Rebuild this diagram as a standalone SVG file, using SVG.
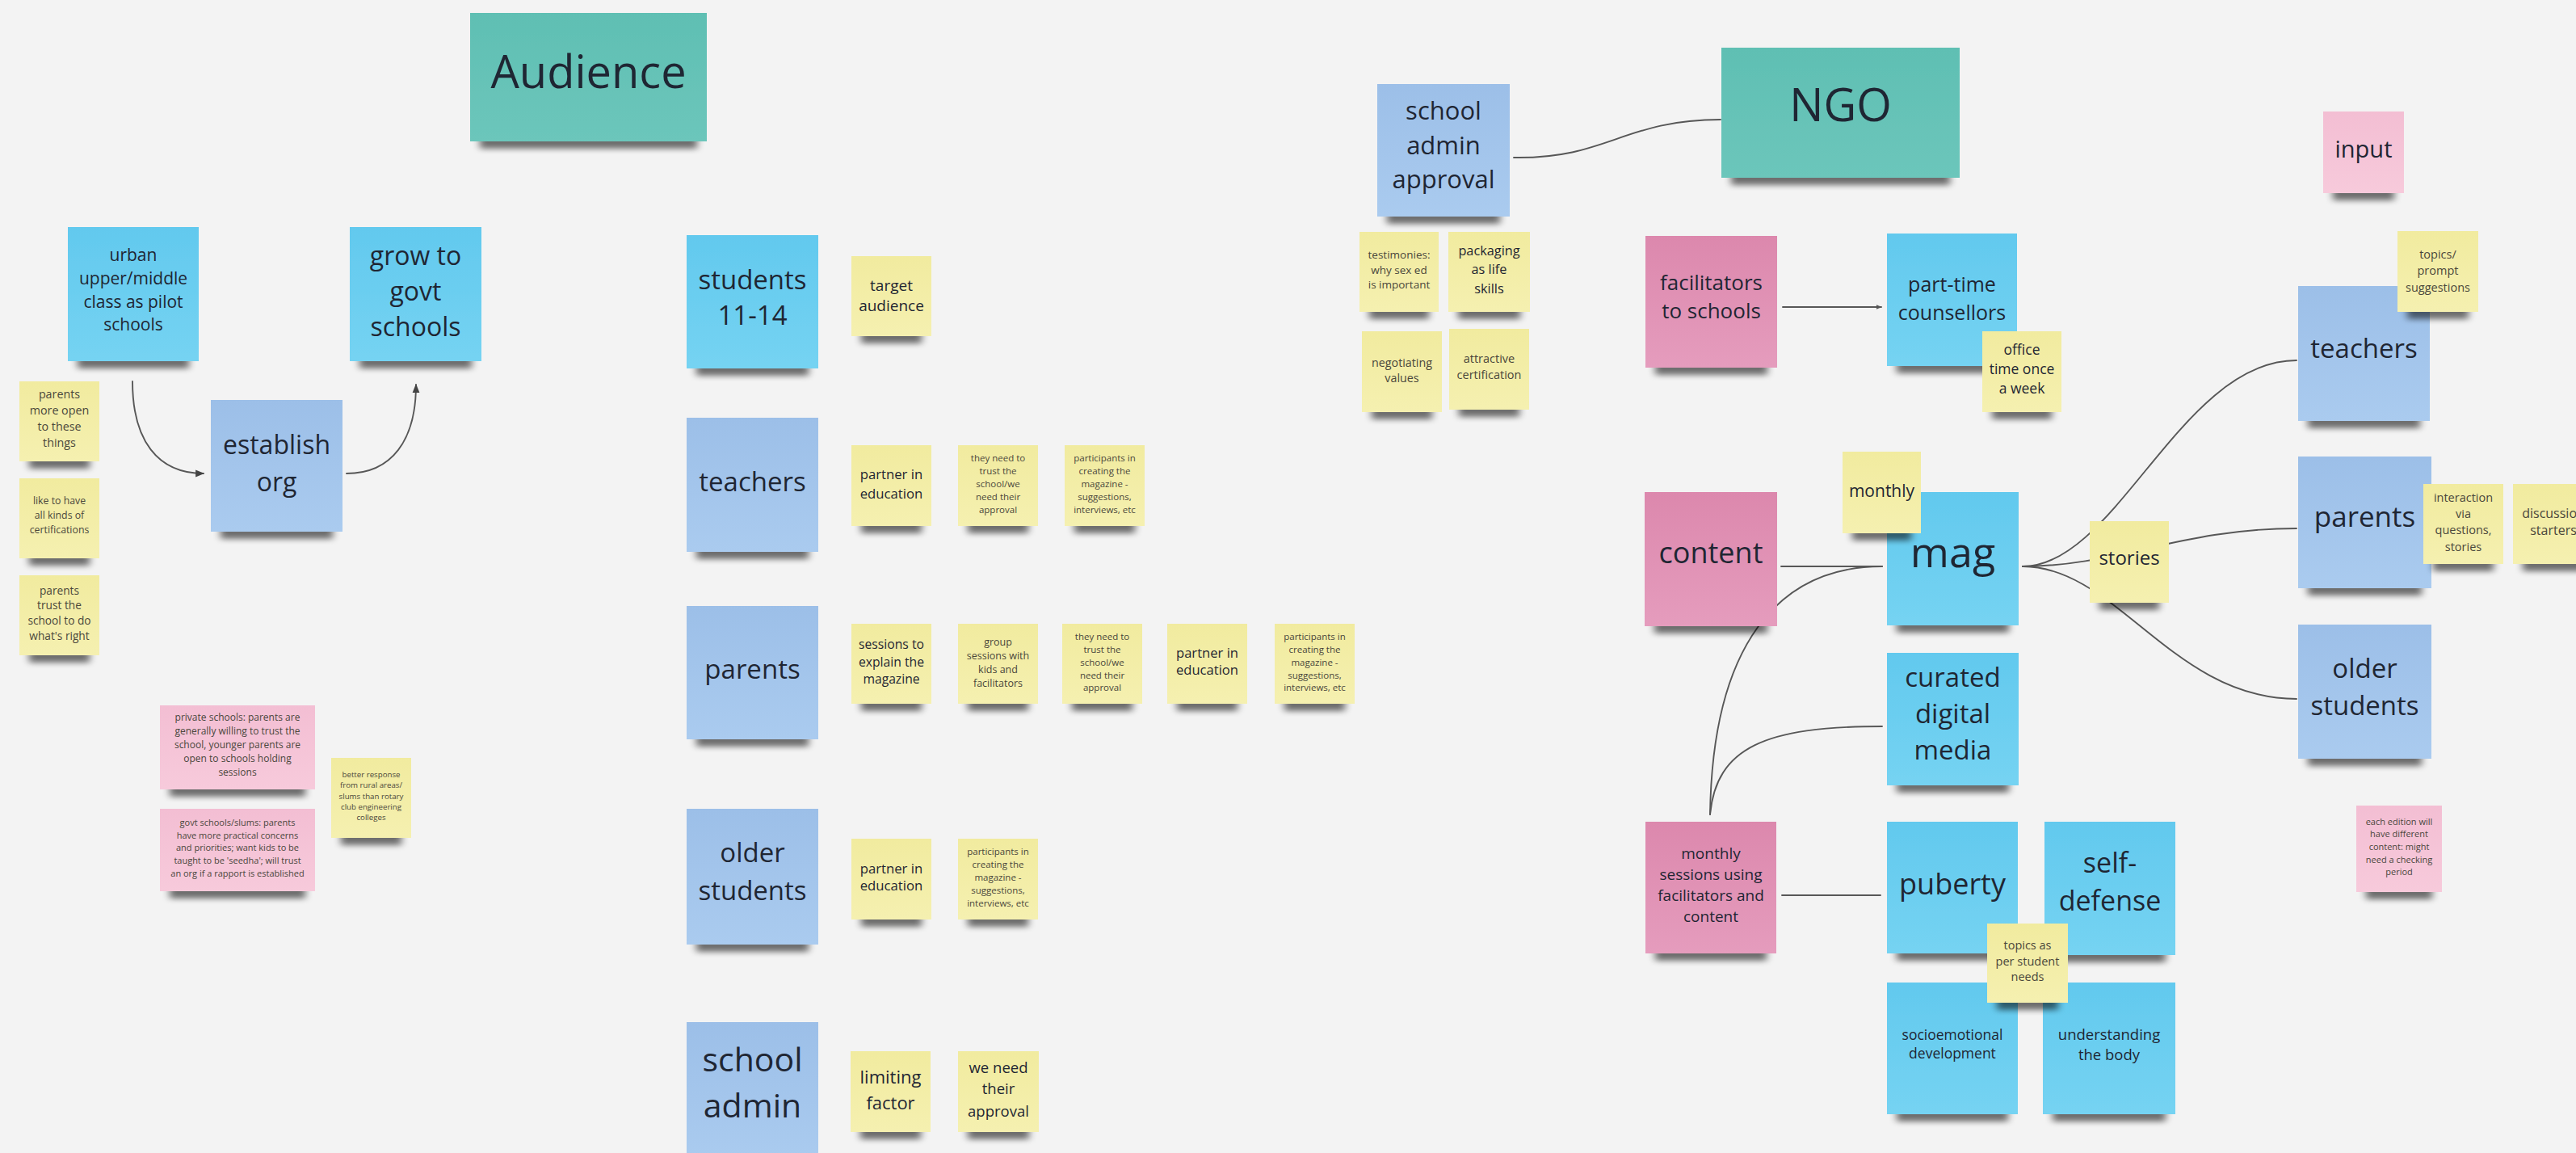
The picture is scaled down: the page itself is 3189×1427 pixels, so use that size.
<svg xmlns="http://www.w3.org/2000/svg" width="3189" height="1427" viewBox="0 0 3189 1427">
<defs>
  <style>
    text { font-family: "Open Sans", "Noto Sans", "Liberation Sans", sans-serif; text-anchor: middle; fill: #1f2633; }
    text.sm { fill: #4a473c; }
    rect.n { filter: url(#sh); }
    .cy { fill: url(#gCy); }
    .lb { fill: url(#gLb); }
    .tl { fill: url(#gTl); }
    .pd { fill: url(#gPd); }
    .pl { fill: url(#gPl); }
    .yl { fill: url(#gYl); }
    #connectors path { fill: none; stroke: #575757; stroke-width: 1.9; stroke-linecap: round; }
  </style>
  <linearGradient id="gCy" x1="0" y1="0" x2="0" y2="1"><stop offset="0" stop-color="#62c9ee"/><stop offset="1" stop-color="#75d3f2"/></linearGradient>
  <linearGradient id="gLb" x1="0" y1="0" x2="0" y2="1"><stop offset="0" stop-color="#9cbfe8"/><stop offset="1" stop-color="#aacbef"/></linearGradient>
  <linearGradient id="gTl" x1="0" y1="0" x2="0" y2="1"><stop offset="0" stop-color="#5fbfb3"/><stop offset="1" stop-color="#6cc6bb"/></linearGradient>
  <linearGradient id="gPd" x1="0" y1="0" x2="0" y2="1"><stop offset="0" stop-color="#dc88ad"/><stop offset="1" stop-color="#e59cbd"/></linearGradient>
  <linearGradient id="gPl" x1="0" y1="0" x2="0" y2="1"><stop offset="0" stop-color="#f3bed3"/><stop offset="1" stop-color="#f7cadb"/></linearGradient>
  <linearGradient id="gYl" x1="0" y1="0" x2="0" y2="1"><stop offset="0" stop-color="#f1eb9f"/><stop offset="1" stop-color="#f5f0b0"/></linearGradient>
  <!-- sticky-note shadow: a narrowed, blurred band below the lower edge -->
  <filter id="sh" x="-10%" y="-10%" width="120%" height="140%">
    <feMorphology in="SourceAlpha" operator="erode" radius="12 0" result="e"/>
    <feOffset in="e" dy="9" result="o"/>
    <feGaussianBlur in="o" stdDeviation="5 3.5" result="b"/>
    <feComponentTransfer in="b" result="s"><feFuncA type="linear" slope="0.55"/></feComponentTransfer>
    <feMerge><feMergeNode in="s"/><feMergeNode in="SourceGraphic"/></feMerge>
  </filter>
  <marker id="ah" viewBox="0 0 10 10" refX="9" refY="5" markerWidth="11" markerHeight="11" markerUnits="userSpaceOnUse" orient="auto">
    <path d="M0,1 L10,5 L0,9 z" fill="#444"/>
  </marker>
  <marker id="ahs" viewBox="0 0 10 10" refX="9" refY="5" markerWidth="7" markerHeight="7" markerUnits="userSpaceOnUse" orient="auto">
    <path d="M0,1 L10,5 L0,9 z" fill="#555"/>
  </marker>
</defs>

<rect x="0" y="0" width="3189" height="1427" fill="#f3f3f3"/>

<g id="connectors">
  <path d="M164,472 C164,545 195,586 252,586" marker-end="url(#ah)"/>
  <path d="M429,586 C485,586 515,545 515,476" marker-end="url(#ah)"/>
  <path d="M1874,195 C1990,197 2010,148 2130,148"/>
  <path d="M2207,380 L2329,380" marker-end="url(#ahs)"/>
  <path d="M2205,701 L2330,701"/>
  <path d="M2117,1008 C2120,800 2200,701 2330,701"/>
  <path d="M2117,1008 C2125,925 2185,899 2330,899"/>
  <path d="M2504,701 C2620,701 2700,446 2843,446"/>
  <path d="M2504,701 C2620,701 2700,654 2843,654"/>
  <path d="M2504,701 C2620,701 2690,865 2843,865"/>
  <path d="M2206,1108 L2328,1108"/>
</g>

<!-- Audience side -->
<g id="audience-title"><rect class="n tl" x="582" y="16" width="293" height="159"/>
  <text x="728.5" y="109" font-size="56">Audience</text></g>

<g id="urban-pilot"><rect class="n cy" x="84" y="281" width="162" height="166"/>
  <text x="165" font-size="21"><tspan x="165" y="323.4">urban</tspan><tspan x="165" y="352">upper/middle</tspan><tspan x="165" y="380.7">class as pilot</tspan><tspan x="165" y="409.4">schools</tspan></text></g>

<g id="grow-govt"><rect class="n cy" x="433" y="281" width="163" height="166"/>
  <text x="514.5" font-size="32"><tspan x="514.5" y="328">grow to</tspan><tspan x="514.5" y="372">govt</tspan><tspan x="514.5" y="416">schools</tspan></text></g>

<g id="establish-org"><rect class="n lb" x="261" y="495" width="163" height="163"/>
  <text x="342.5" font-size="32"><tspan x="342.5" y="562">establish</tspan><tspan x="342.5" y="608">org</tspan></text></g>

<g id="note-open"><rect class="n yl" x="24" y="472" width="99" height="99"/>
  <text class="sm" x="73.5" font-size="14.3"><tspan x="73.5" y="493">parents</tspan><tspan x="73.5" y="513">more open</tspan><tspan x="73.5" y="533">to these</tspan><tspan x="73.5" y="553">things</tspan></text></g>

<g id="note-cert"><rect class="n yl" x="24" y="592" width="99" height="99"/>
  <text class="sm" x="73.5" font-size="12.3"><tspan x="73.5" y="624">like to have</tspan><tspan x="73.5" y="642">all kinds of</tspan><tspan x="73.5" y="660">certifications</tspan></text></g>

<g id="note-trust"><rect class="n yl" x="24" y="712" width="99" height="99"/>
  <text class="sm" x="73.5" font-size="13.7"><tspan x="73.5" y="735.5">parents</tspan><tspan x="73.5" y="754">trust the</tspan><tspan x="73.5" y="773">school to do</tspan><tspan x="73.5" y="792">what's right</tspan></text></g>

<g id="note-private"><rect class="n pl" x="198" y="873" width="192" height="104"/>
  <text class="sm" x="294" font-size="12"><tspan x="294" y="892">private schools: parents are</tspan><tspan x="294" y="909">generally willing to trust the</tspan><tspan x="294" y="926">school, younger parents are</tspan><tspan x="294" y="943">open to schools holding</tspan><tspan x="294" y="960">sessions</tspan></text></g>

<g id="note-govt"><rect class="n pl" x="198" y="1001" width="192" height="102"/>
  <text class="sm" x="294" font-size="11"><tspan x="294" y="1022">govt schools/slums: parents</tspan><tspan x="294" y="1037.7">have more practical concerns</tspan><tspan x="294" y="1053.4">and priorities; want kids to be</tspan><tspan x="294" y="1069">taught to be 'seedha'; will trust</tspan><tspan x="294" y="1084.8">an org if a rapport is established</tspan></text></g>

<g id="note-rural"><rect class="n yl" x="410" y="938" width="99" height="99"/>
  <text class="sm" x="459.5" font-size="9.7"><tspan x="459.5" y="961.5">better response</tspan><tspan x="459.5" y="975">from rural areas/</tspan><tspan x="459.5" y="988.5">slums than rotary</tspan><tspan x="459.5" y="1002">club engineering</tspan><tspan x="459.5" y="1015">colleges</tspan></text></g>

<!-- audience groups and their notes -->
<g id="students"><rect class="n cy" x="850" y="291" width="163" height="165"/>
  <text x="931.5" font-size="33"><tspan x="931.5" y="357.5">students</tspan><tspan x="931.5" y="401.5">11-14</tspan></text></g>
<g id="note-target"><rect class="n yl" x="1054" y="317" width="99" height="99"/>
  <text x="1103.5" font-size="19"><tspan x="1103.5" y="359.6">target</tspan><tspan x="1103.5" y="384.6">audience</tspan></text></g>

<g id="teachers"><rect class="n lb" x="850" y="517" width="163" height="166"/>
  <text x="931.5" y="607.5" font-size="33">teachers</text></g>
<g id="teachers-partner"><rect class="n yl" x="1054" y="551" width="99" height="100"/>
  <text x="1103.5" font-size="16.7"><tspan x="1103.5" y="593">partner in</tspan><tspan x="1103.5" y="616.5">education</tspan></text></g>
<g id="teachers-trust"><rect class="n yl" x="1186" y="551" width="99" height="100"/>
  <text class="sm" x="1235.5" font-size="11.5"><tspan x="1235.5" y="571">they need to</tspan><tspan x="1235.5" y="587">trust the</tspan><tspan x="1235.5" y="603">school/we</tspan><tspan x="1235.5" y="619">need their</tspan><tspan x="1235.5" y="635">approval</tspan></text></g>
<g id="teachers-participants"><rect class="n yl" x="1318" y="551" width="99" height="100"/>
  <text class="sm" x="1367.5" font-size="11.5"><tspan x="1367.5" y="571">participants in</tspan><tspan x="1367.5" y="587">creating the</tspan><tspan x="1367.5" y="603">magazine -</tspan><tspan x="1367.5" y="619">suggestions,</tspan><tspan x="1367.5" y="635">interviews, etc</tspan></text></g>

<g id="parents"><rect class="n lb" x="850" y="750" width="163" height="165"/>
  <text x="931.5" y="840" font-size="33">parents</text></g>
<g id="parents-sessions"><rect class="n yl" x="1054" y="772" width="99" height="99"/>
  <text x="1103.5" font-size="15.7"><tspan x="1103.5" y="803">sessions to</tspan><tspan x="1103.5" y="824.5">explain the</tspan><tspan x="1103.5" y="845.5">magazine</tspan></text></g>
<g id="parents-group"><rect class="n yl" x="1186" y="772" width="99" height="99"/>
  <text class="sm" x="1235.5" font-size="12.5"><tspan x="1235.5" y="798.7">group</tspan><tspan x="1235.5" y="815.5">sessions with</tspan><tspan x="1235.5" y="832.5">kids and</tspan><tspan x="1235.5" y="849.5">facilitators</tspan></text></g>
<g id="parents-trust"><rect class="n yl" x="1315" y="772" width="99" height="99"/>
  <text class="sm" x="1364.5" font-size="11.5"><tspan x="1364.5" y="792.3">they need to</tspan><tspan x="1364.5" y="808">trust the</tspan><tspan x="1364.5" y="824">school/we</tspan><tspan x="1364.5" y="839.7">need their</tspan><tspan x="1364.5" y="855">approval</tspan></text></g>
<g id="parents-partner"><rect class="n yl" x="1445" y="772" width="99" height="99"/>
  <text x="1494.5" font-size="16.6"><tspan x="1494.5" y="814">partner in</tspan><tspan x="1494.5" y="835">education</tspan></text></g>
<g id="parents-participants"><rect class="n yl" x="1578" y="772" width="99" height="99"/>
  <text class="sm" x="1627.5" font-size="11.5"><tspan x="1627.5" y="792.3">participants in</tspan><tspan x="1627.5" y="808">creating the</tspan><tspan x="1627.5" y="824">magazine -</tspan><tspan x="1627.5" y="839.7">suggestions,</tspan><tspan x="1627.5" y="855">interviews, etc</tspan></text></g>

<g id="older-students"><rect class="n lb" x="850" y="1001" width="163" height="168"/>
  <text x="931.5" font-size="33"><tspan x="931.5" y="1067">older</tspan><tspan x="931.5" y="1113.5">students</tspan></text></g>
<g id="older-partner"><rect class="n yl" x="1054" y="1038" width="99" height="100"/>
  <text x="1103.5" font-size="16.7"><tspan x="1103.5" y="1081">partner in</tspan><tspan x="1103.5" y="1102">education</tspan></text></g>
<g id="older-participants"><rect class="n yl" x="1186" y="1038" width="99" height="100"/>
  <text class="sm" x="1235.5" font-size="11.5"><tspan x="1235.5" y="1058.3">participants in</tspan><tspan x="1235.5" y="1074">creating the</tspan><tspan x="1235.5" y="1090">magazine -</tspan><tspan x="1235.5" y="1106.3">suggestions,</tspan><tspan x="1235.5" y="1121.7">interviews, etc</tspan></text></g>

<g id="school-admin"><rect class="n lb" x="850" y="1265" width="163" height="168"/>
  <text x="931.5" font-size="41"><tspan x="931.5" y="1326">school</tspan><tspan x="931.5" y="1383">admin</tspan></text></g>
<g id="admin-limiting"><rect class="n yl" x="1053" y="1301" width="99" height="100"/>
  <text x="1102.5" font-size="22"><tspan x="1102.5" y="1341">limiting</tspan><tspan x="1102.5" y="1372.7">factor</tspan></text></g>
<g id="admin-approval-note"><rect class="n yl" x="1186" y="1301" width="100" height="100"/>
  <text x="1236" font-size="18.5"><tspan x="1236" y="1328">we need</tspan><tspan x="1236" y="1354">their</tspan><tspan x="1236" y="1381.5">approval</tspan></text></g>

<!-- NGO side -->
<g id="ngo-title"><rect class="n tl" x="2131" y="59" width="295" height="161"/>
  <text x="2278.5" y="150" font-size="56">NGO</text></g>

<g id="admin-approval"><rect class="n lb" x="1705" y="104" width="164" height="164"/>
  <text x="1787" font-size="31"><tspan x="1787" y="147.6">school</tspan><tspan x="1787" y="191">admin</tspan><tspan x="1787" y="232.6">approval</tspan></text></g>
<g id="note-testimonies"><rect class="n yl" x="1683" y="287" width="98" height="99"/>
  <text class="sm" x="1732" font-size="13.5"><tspan x="1732" y="319.7">testimonies:</tspan><tspan x="1732" y="338.7">why sex ed</tspan><tspan x="1732" y="356.7">is important</tspan></text></g>
<g id="note-packaging"><rect class="n yl" x="1793" y="287" width="101" height="99"/>
  <text x="1843.5" font-size="16.3"><tspan x="1843.5" y="315.7">packaging</tspan><tspan x="1843.5" y="338.7">as life</tspan><tspan x="1843.5" y="362.7">skills</tspan></text></g>
<g id="note-negotiating"><rect class="n yl" x="1686" y="410" width="99" height="100"/>
  <text class="sm" x="1735.5" font-size="14.3"><tspan x="1735.5" y="454">negotiating</tspan><tspan x="1735.5" y="473">values</tspan></text></g>
<g id="note-certification"><rect class="n yl" x="1794" y="407" width="99" height="100"/>
  <text class="sm" x="1843.5" font-size="14.5"><tspan x="1843.5" y="449">attractive</tspan><tspan x="1843.5" y="469">certification</tspan></text></g>

<g id="facilitators"><rect class="n pd" x="2037" y="292" width="163" height="163"/>
  <text x="2118.5" font-size="26"><tspan x="2118.5" y="359">facilitators</tspan><tspan x="2118.5" y="394">to schools</tspan></text></g>
<g id="counsellors"><rect class="n cy" x="2336" y="289" width="161" height="164"/>
  <text x="2416.5" font-size="25"><tspan x="2416.5" y="361">part-time</tspan><tspan x="2416.5" y="396">counsellors</tspan></text></g>
<g id="note-office"><rect class="n yl" x="2454" y="410" width="98" height="100"/>
  <text x="2503" font-size="17.5"><tspan x="2503" y="439">office</tspan><tspan x="2503" y="463">time once</tspan><tspan x="2503" y="487">a week</tspan></text></g>

<g id="input"><rect class="n pl" x="2876" y="138" width="100" height="101"/>
  <text x="2926" y="195" font-size="29">input</text></g>

<g id="content"><rect class="n pd" x="2036" y="609" width="164" height="166"/>
  <text x="2118" y="697" font-size="36">content</text></g>
<g id="mag"><rect class="n cy" x="2336" y="609" width="163" height="165"/>
  <text x="2417.5" y="702" font-size="52">mag</text></g>
<g id="note-monthly"><rect class="n yl" x="2281" y="559" width="97" height="101"/>
  <text x="2329.5" y="615" font-size="21">monthly</text></g>
<g id="note-stories"><rect class="n yl" x="2587" y="645" width="98" height="101"/>
  <text x="2636" y="699" font-size="24">stories</text></g>
<g id="curated-media"><rect class="n cy" x="2336" y="808" width="163" height="164"/>
  <text x="2417.5" font-size="33"><tspan x="2417.5" y="850">curated</tspan><tspan x="2417.5" y="895">digital</tspan><tspan x="2417.5" y="940">media</tspan></text></g>

<g id="teachers-reader"><rect class="n lb" x="2845" y="354" width="163" height="167"/>
  <text x="2926.5" y="443" font-size="33">teachers</text></g>
<g id="note-topics-prompt"><rect class="n yl" x="2968" y="286" width="100" height="100"/>
  <text class="sm" x="3018" font-size="14.5"><tspan x="3018" y="320">topics/</tspan><tspan x="3018" y="340">prompt</tspan><tspan x="3018" y="361">suggestions</tspan></text></g>

<g id="parents-reader"><rect class="n lb" x="2845" y="565" width="165" height="163"/>
  <text x="2927.5" y="652" font-size="35">parents</text></g>
<g id="note-interaction"><rect class="n yl" x="3000" y="599" width="99" height="99"/>
  <text class="sm" x="3049.5" font-size="14.5"><tspan x="3049.5" y="620.7">interaction</tspan><tspan x="3049.5" y="641">via</tspan><tspan x="3049.5" y="661.3">questions,</tspan><tspan x="3049.5" y="681.6">stories</tspan></text></g>
<g id="note-discussion"><rect class="n yl" x="3111" y="599" width="100" height="99"/>
  <text class="sm" x="3161" font-size="16"><tspan x="3161" y="640.6">discussion</tspan><tspan x="3161" y="662.3">starters</tspan></text></g>

<g id="older-reader"><rect class="n lb" x="2845" y="773" width="165" height="166"/>
  <text x="2927.5" font-size="33"><tspan x="2927.5" y="838.5">older</tspan><tspan x="2927.5" y="884.5">students</tspan></text></g>

<g id="note-edition"><rect class="n pl" x="2917" y="997" width="106" height="107"/>
  <text class="sm" x="2970" font-size="11"><tspan x="2970" y="1020.6">each edition will</tspan><tspan x="2970" y="1036">have different</tspan><tspan x="2970" y="1052">content: might</tspan><tspan x="2970" y="1068">need a checking</tspan><tspan x="2970" y="1083">period</tspan></text></g>

<g id="monthly-sessions"><rect class="n pd" x="2037" y="1017" width="162" height="163"/>
  <text x="2118" font-size="19"><tspan x="2118" y="1063">monthly</tspan><tspan x="2118" y="1089">sessions using</tspan><tspan x="2118" y="1114.5">facilitators and</tspan><tspan x="2118" y="1140.5">content</tspan></text></g>
<g id="puberty"><rect class="n cy" x="2336" y="1017" width="162" height="163"/>
  <text x="2417" y="1106.7" font-size="36">puberty</text></g>
<g id="self-defense"><rect class="n cy" x="2531" y="1017" width="162" height="165"/>
  <text x="2612" font-size="34"><tspan x="2612" y="1080">self-</tspan><tspan x="2612" y="1126.7">defense</tspan></text></g>
<g id="socioemotional"><rect class="n cy" x="2336" y="1216" width="162" height="163"/>
  <text x="2417" font-size="17.5"><tspan x="2417" y="1286.7">socioemotional</tspan><tspan x="2417" y="1310">development</tspan></text></g>
<g id="understanding-body"><rect class="n cy" x="2529" y="1216" width="164" height="163"/>
  <text x="2611" font-size="18.5"><tspan x="2611" y="1287">understanding</tspan><tspan x="2611" y="1311.7">the body</tspan></text></g>
<g id="note-topics-needs"><rect class="n yl" x="2460" y="1143" width="100" height="98"/>
  <text class="sm" x="2510" font-size="14.5"><tspan x="2510" y="1175">topics as</tspan><tspan x="2510" y="1195">per student</tspan><tspan x="2510" y="1214">needs</tspan></text></g>
</svg>
